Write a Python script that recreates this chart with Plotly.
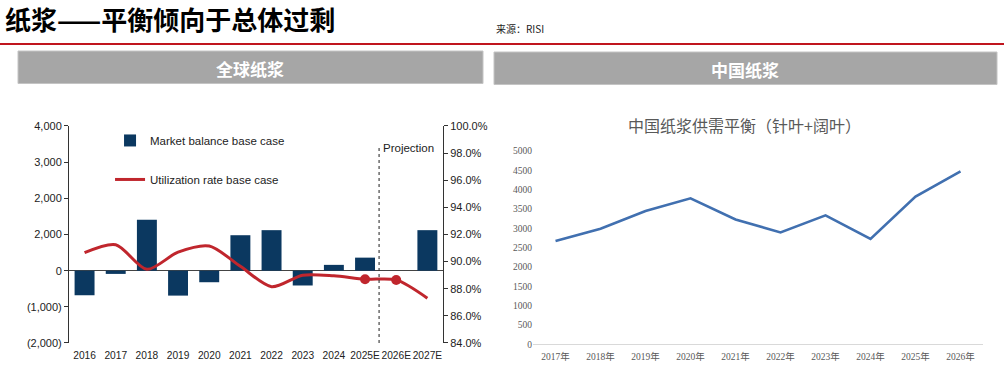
import plotly.graph_objects as go

# ---------------- data ----------------
global_years = ["2016", "2017", "2018", "2019", "2020", "2021", "2022", "2023",
                "2024", "2025E", "2026E", "2027E"]
market_balance = [-680, -90, 1410, -690, -320, 980, 1120, -410, 160, 360, 0, 1120]
utilization = [0.9066, 0.9125, 0.8943, 0.9070, 0.9115, 0.8965, 0.8815, 0.8900,
               0.8895, 0.8870, 0.8865, 0.8730]
marker_years = ["2025E", "2026E"]
marker_util = [0.8870, 0.8865]
left_tickvals = [-2000, -1000, 0, 1000, 2000, 3000, 4000]
left_ticktext = ["(2,000)", "(1,000)", "0", "2,000", "2,000", "3,000", "4,000"]
right_tickvals = [0.84, 0.86, 0.88, 0.90, 0.92, 0.94, 0.96, 0.98, 1.00]

china_years = ["2017年", "2018年", "2019年", "2020年", "2021年", "2022年",
               "2023年", "2024年", "2025年", "2026年"]
china_balance = [2670, 2990, 3450, 3775, 3230, 2895, 3335, 2725, 3820, 4475]
china_tickvals = [0, 500, 1000, 1500, 2000, 2500, 3000, 3500, 4000, 4500, 5000]

PROJECTION_X = 9.45
PROJECTION_TOP = 3400

NAVY = "#0b3860"
RED = "#c0262d"
SANS = "Liberation Sans, Arial, sans-serif"
SERIF = "Liberation Serif, Noto Sans CJK SC, serif"
CJK = "Noto Sans CJK SC, sans-serif"

fig = go.Figure()

fig.add_trace(go.Bar(
    x=global_years, y=market_balance, name="Market balance base case",
    marker=dict(color=NAVY, line=dict(width=0)), xaxis="x", yaxis="y",
    legendgroup="a",
))
fig.add_trace(go.Scatter(
    x=global_years, y=utilization, name="Utilization rate base case",
    mode="lines", line=dict(color=RED, width=3, shape="spline", smoothing=0.8),
    xaxis="x", yaxis="y2", legendgroup="b",
))
fig.add_trace(go.Scatter(
    x=marker_years, y=marker_util, mode="markers",
    marker=dict(color=RED, size=10), xaxis="x", yaxis="y2", showlegend=False,
))

fig.add_trace(go.Scatter(
    x=china_years, y=china_balance, mode="lines",
    line=dict(color="#4170b0", width=2.6), xaxis="x3", yaxis="y3",
    showlegend=False,
))

axis_font = dict(family=SANS, size=11, color="#222222")
xcat_font = dict(family=SANS, size=10.2, color="#222222")

fig.update_layout(
    width=1004, height=376,
    margin=dict(l=0, r=0, t=0, b=0, autoexpand=False),
    paper_bgcolor="white", plot_bgcolor="rgba(0,0,0,0)",
    bargap=0.36,
    showlegend=True,
    legend=dict(x=0.1096, y=0.665, xanchor="left", yanchor="top",
                font=dict(family=SANS, size=11.5, color="#222222"),
                traceorder="grouped", tracegroupgap=20,
                itemwidth=30, bgcolor="rgba(0,0,0,0)"),
    xaxis=dict(domain=[0.0687, 0.4412], range=[-0.5, 11.5], type="category",
               showline=False, ticks="", tickfont=xcat_font, anchor="y",
               showgrid=False, tickangle=0, automargin=False,
               ticklabelstandoff=5),
    yaxis=dict(domain=[0.0878, 0.6649], range=[-2000, 4000],
               tickvals=left_tickvals, ticktext=left_ticktext,
               showline=True, linecolor="#333333", linewidth=1,
               ticks="outside", ticklen=4, tickcolor="#333333",
               tickfont=axis_font, showgrid=False,
               zeroline=True, zerolinecolor="#444444", zerolinewidth=1,
               anchor="x", automargin=False),
    yaxis2=dict(overlaying="y", side="right", range=[0.84, 1.00],
                tickvals=right_tickvals, tickformat=".1%",
                showline=True, linecolor="#333333", linewidth=1,
                ticks="outside", ticklen=4, tickcolor="#333333",
                tickfont=axis_font, showgrid=False, zeroline=False,
                anchor="x", automargin=False),
    xaxis3=dict(domain=[0.5309, 0.9791], range=[-0.5, 9.5], type="category",
                showline=True, linecolor="#d9d9d9", linewidth=1, ticks="",
                tickfont=dict(family=SERIF, size=9.5, color="#595959"),
                showgrid=False, anchor="y3", tickangle=0, automargin=False,
                ticklabelstandoff=3),
    yaxis3=dict(domain=[0.0843, 0.5984], range=[0, 5000],
                tickvals=china_tickvals, showline=False, ticks="",
                tickfont=dict(family=SERIF, size=9.5, color="#595959"),
                showgrid=False, zeroline=False, anchor="x3", automargin=False),
    shapes=[
        # red rule under the title
        dict(type="line", xref="paper", yref="paper", x0=0, x1=1,
             y0=1 - 44 / 376, y1=1 - 44 / 376,
             line=dict(color="#c0151e", width=2)),
        # grey header boxes
        dict(type="rect", xref="paper", yref="paper",
             x0=18 / 1004, x1=483 / 1004, y0=1 - 83.5 / 376, y1=1 - 51 / 376,
             fillcolor="#a6a6a6", line=dict(color="#c4c4c4", width=1)),
        dict(type="rect", xref="paper", yref="paper",
             x0=494 / 1004, x1=997 / 1004, y0=1 - 84.5 / 376, y1=1 - 52 / 376,
             fillcolor="#a6a6a6", line=dict(color="#c4c4c4", width=1)),
        # projection divider
        dict(type="line", xref="x", yref="y", x0=PROJECTION_X, x1=PROJECTION_X,
             y0=-2000, y1=PROJECTION_TOP,
             line=dict(color="#333333", width=1.1, dash="3px,3px")),
    ],
    annotations=[
        dict(text="<b>纸浆——平衡倾向于总体过剩</b>", xref="paper", yref="paper",
             x=3 / 1004, y=1 - 19 / 376, xanchor="left", yanchor="middle",
             showarrow=False, font=dict(family=CJK, size=26, color="#000000")),
        dict(text="来源：RISI", xref="paper", yref="paper",
             x=494 / 1004, y=1 - 28 / 376, xanchor="left", yanchor="middle",
             showarrow=False, font=dict(family=CJK, size=10, color="#222222")),
        dict(text="<b>全球纸浆</b>", xref="paper", yref="paper",
             x=250 / 1004, y=1 - 68 / 376, xanchor="center", yanchor="middle",
             showarrow=False, font=dict(family=CJK, size=17, color="white")),
        dict(text="<b>中国纸浆</b>", xref="paper", yref="paper",
             x=745 / 1004, y=1 - 69 / 376, xanchor="center", yanchor="middle",
             showarrow=False, font=dict(family=CJK, size=17, color="white")),
        dict(text="Projection", xref="x", yref="y",
             x=PROJECTION_X, y=PROJECTION_TOP, xanchor="left", yanchor="middle",
             xshift=2, showarrow=False,
             font=dict(family=SANS, size=11.5, color="#222222")),
        dict(text="中国纸浆供需平衡（针叶+阔叶）", xref="paper", yref="paper",
             x=744 / 1004, y=1 - 125 / 376, xanchor="center", yanchor="middle",
             showarrow=False, font=dict(family=CJK, size=16, color="#595959")),
    ],
)

fig.write_html("out.html",
               config={"displayModeBar": False},
               post_script="document.body.style.margin='0px';")
